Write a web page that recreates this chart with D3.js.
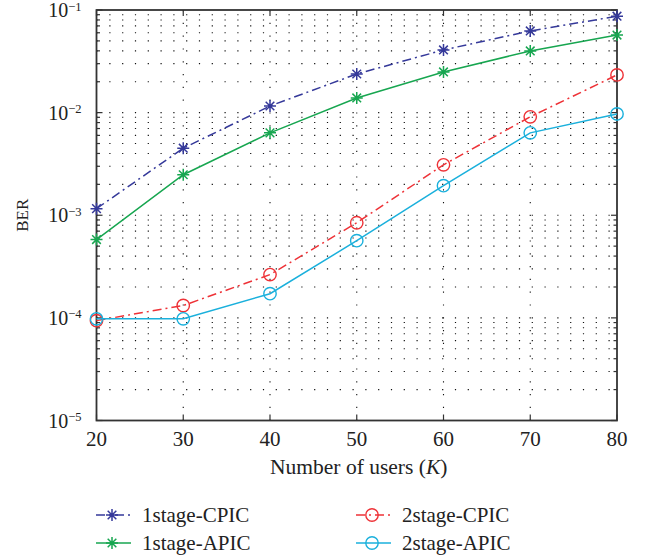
<!DOCTYPE html>
<html><head><meta charset="utf-8">
<script src="https://cdn.jsdelivr.net/npm/d3@7"></script>
<style>body{margin:0;background:#fff}svg{display:block}text{font-family:"Liberation Serif","DejaVu Serif",serif;fill:#222}</style>
</head><body><svg id="c" width="646" height="558"></svg>
<script>
const users = [20, 30, 40, 50, 60, 70, 80];
const cpic1 = [1.16e-3, 4.5e-3, 1.16e-2, 2.38e-2, 4.08e-2, 6.25e-2, 8.7e-2];
const apic1 = [5.8e-4, 2.48e-3, 6.35e-3, 1.39e-2, 2.49e-2, 3.99e-2, 5.7e-2];
const cpic2 = [9.4e-5, 1.32e-4, 2.64e-4, 8.45e-4, 3.1e-3, 9.1e-3, 2.33e-2];
const apic2 = [9.8e-5, 9.8e-5, 1.72e-4, 5.65e-4, 1.94e-3, 6.35e-3, 9.7e-3];
const xTicks = [20, 30, 40, 50, 60, 70, 80];
const yExps = [-5, -4, -3, -2, -1];
const seriesNames = ["1stage-CPIC", "1stage-APIC", "2stage-CPIC", "2stage-APIC"];

const series = [
  {name: seriesNames[0], v: cpic1, color: "#35399a", dash: "9,4,2,4", marker: "star"},
  {name: seriesNames[1], v: apic1, color: "#17a650", dash: null, marker: "star"},
  {name: seriesNames[2], v: cpic2, color: "#ee3237", dash: "9,4,2,4", marker: "circle"},
  {name: seriesNames[3], v: apic2, color: "#1ab0dc", dash: null, marker: "circle"}
];

const L = 96.5, R = 617, T = 10, B = 420.5;
const svg = d3.select("#c");
const x = d3.scaleLinear().domain([20, 80]).range([L, R]);
const y = d3.scaleLog().domain([1e-5, 1e-1]).range([B, T]);

// grid
const minorVals = [];
for (let e = -5; e < -1; e++) for (let m = 1; m <= 9; m++) minorVals.push(m * Math.pow(10, e));
minorVals.push(1e-1);
const g = svg.append("g");
g.selectAll("line.h").data(minorVals.filter(v => v > 1e-5 && v < 1e-1)).join("line")
  .attr("x1", L).attr("x2", R).attr("y1", d => y(d)).attr("y2", d => y(d))
  .attr("stroke", "#111").attr("stroke-width", 1.1).attr("stroke-dasharray", "1.2,11.6");
g.selectAll("line.v").data(xTicks.slice(1, -1)).join("line")
  .attr("x1", d => x(d)).attr("x2", d => x(d)).attr("y1", T).attr("y2", B)
  .attr("stroke", "#111").attr("stroke-width", 1.1).attr("stroke-dasharray", "1.2,11.6");

// ticks
const ax = svg.append("g").attr("stroke", "#333").attr("stroke-width", 1.2);
minorVals.forEach(v => {
  const major = Math.abs(Math.log10(v) - Math.round(Math.log10(v))) < 1e-9;
  const len = major ? 6 : 3.5;
  ax.append("line").attr("x1", L).attr("x2", L + len).attr("y1", y(v)).attr("y2", y(v));
  ax.append("line").attr("x1", R).attr("x2", R - len).attr("y1", y(v)).attr("y2", y(v));
});
xTicks.forEach(t => {
  ax.append("line").attr("x1", x(t)).attr("x2", x(t)).attr("y1", B).attr("y2", B - 6);
  ax.append("line").attr("x1", x(t)).attr("x2", x(t)).attr("y1", T).attr("y2", T + 6);
});
svg.append("rect").attr("x", L).attr("y", T).attr("width", R - L).attr("height", B - T)
  .attr("fill", "none").attr("stroke", "#333").attr("stroke-width", 1.8);

// tick labels
svg.selectAll("text.xt").data(xTicks).join("text")
  .attr("x", d => x(d)).attr("y", B + 25).attr("text-anchor", "middle")
  .attr("font-size", 21).text(d => d);
yExps.forEach(e => {
  const t = svg.append("text").attr("x", L - 15).attr("y", y(Math.pow(10, e)) + 7)
    .attr("text-anchor", "end").attr("font-size", 20);
  t.append("tspan").text("10");
  t.append("tspan").attr("dy", -6.5).attr("font-size", 12.5).text("\u2212" + Math.abs(e));
});

// axis titles
const xt = svg.append("text").attr("x", (L + R) / 2 + 2).attr("y", 474).attr("text-anchor", "middle").attr("font-size", 21.5);
xt.append("tspan").text("Number of users (");
xt.append("tspan").attr("font-style", "italic").text("K");
xt.append("tspan").text(")");
svg.append("text").attr("transform", `translate(28,${(T + B) / 2}) rotate(-90)`)
  .attr("text-anchor", "middle").attr("font-size", 17).text("BER");

function drawMarker(sel, type, cx, cy, color) {
  if (type === "circle") {
    sel.append("circle").attr("cx", cx).attr("cy", cy).attr("r", 6.2)
      .attr("fill", "none").attr("stroke", color).attr("stroke-width", 1.4);
  } else {
    const r = 6, d = r * 0.72;
    const p = `M${cx - r},${cy}L${cx + r},${cy}M${cx},${cy - r}L${cx},${cy + r}M${cx - d},${cy - d}L${cx + d},${cy + d}M${cx - d},${cy + d}L${cx + d},${cy - d}`;
    sel.append("path").attr("d", p).attr("stroke", color).attr("stroke-width", 1.5).attr("fill", "none");
  }
}

const line = d3.line().x((d, i) => x(users[i])).y(d => y(d));
series.forEach(s => {
  const gs = svg.append("g");
  gs.append("path").attr("d", line(s.v)).attr("fill", "none").attr("stroke", s.color)
    .attr("stroke-width", 1.5).attr("stroke-dasharray", s.dash);
  s.v.forEach((v, i) => drawMarker(gs, s.marker, x(users[i]), y(v), s.color));
});

// legend
const legPos = [[96, 515], [96, 543], [356, 515], [356, 543]];
series.forEach((s, i) => {
  const [lx, ly] = legPos[i];
  const gl = svg.append("g");
  gl.append("line").attr("x1", lx).attr("x2", lx + 35).attr("y1", ly).attr("y2", ly)
    .attr("stroke", s.color).attr("stroke-width", 1.5).attr("stroke-dasharray", s.dash);
  drawMarker(gl, s.marker, lx + 16, ly, s.color);
  gl.append("text").attr("x", lx + 46).attr("y", ly + 7).attr("font-size", 21).text(s.name);
});
</script></body></html>
